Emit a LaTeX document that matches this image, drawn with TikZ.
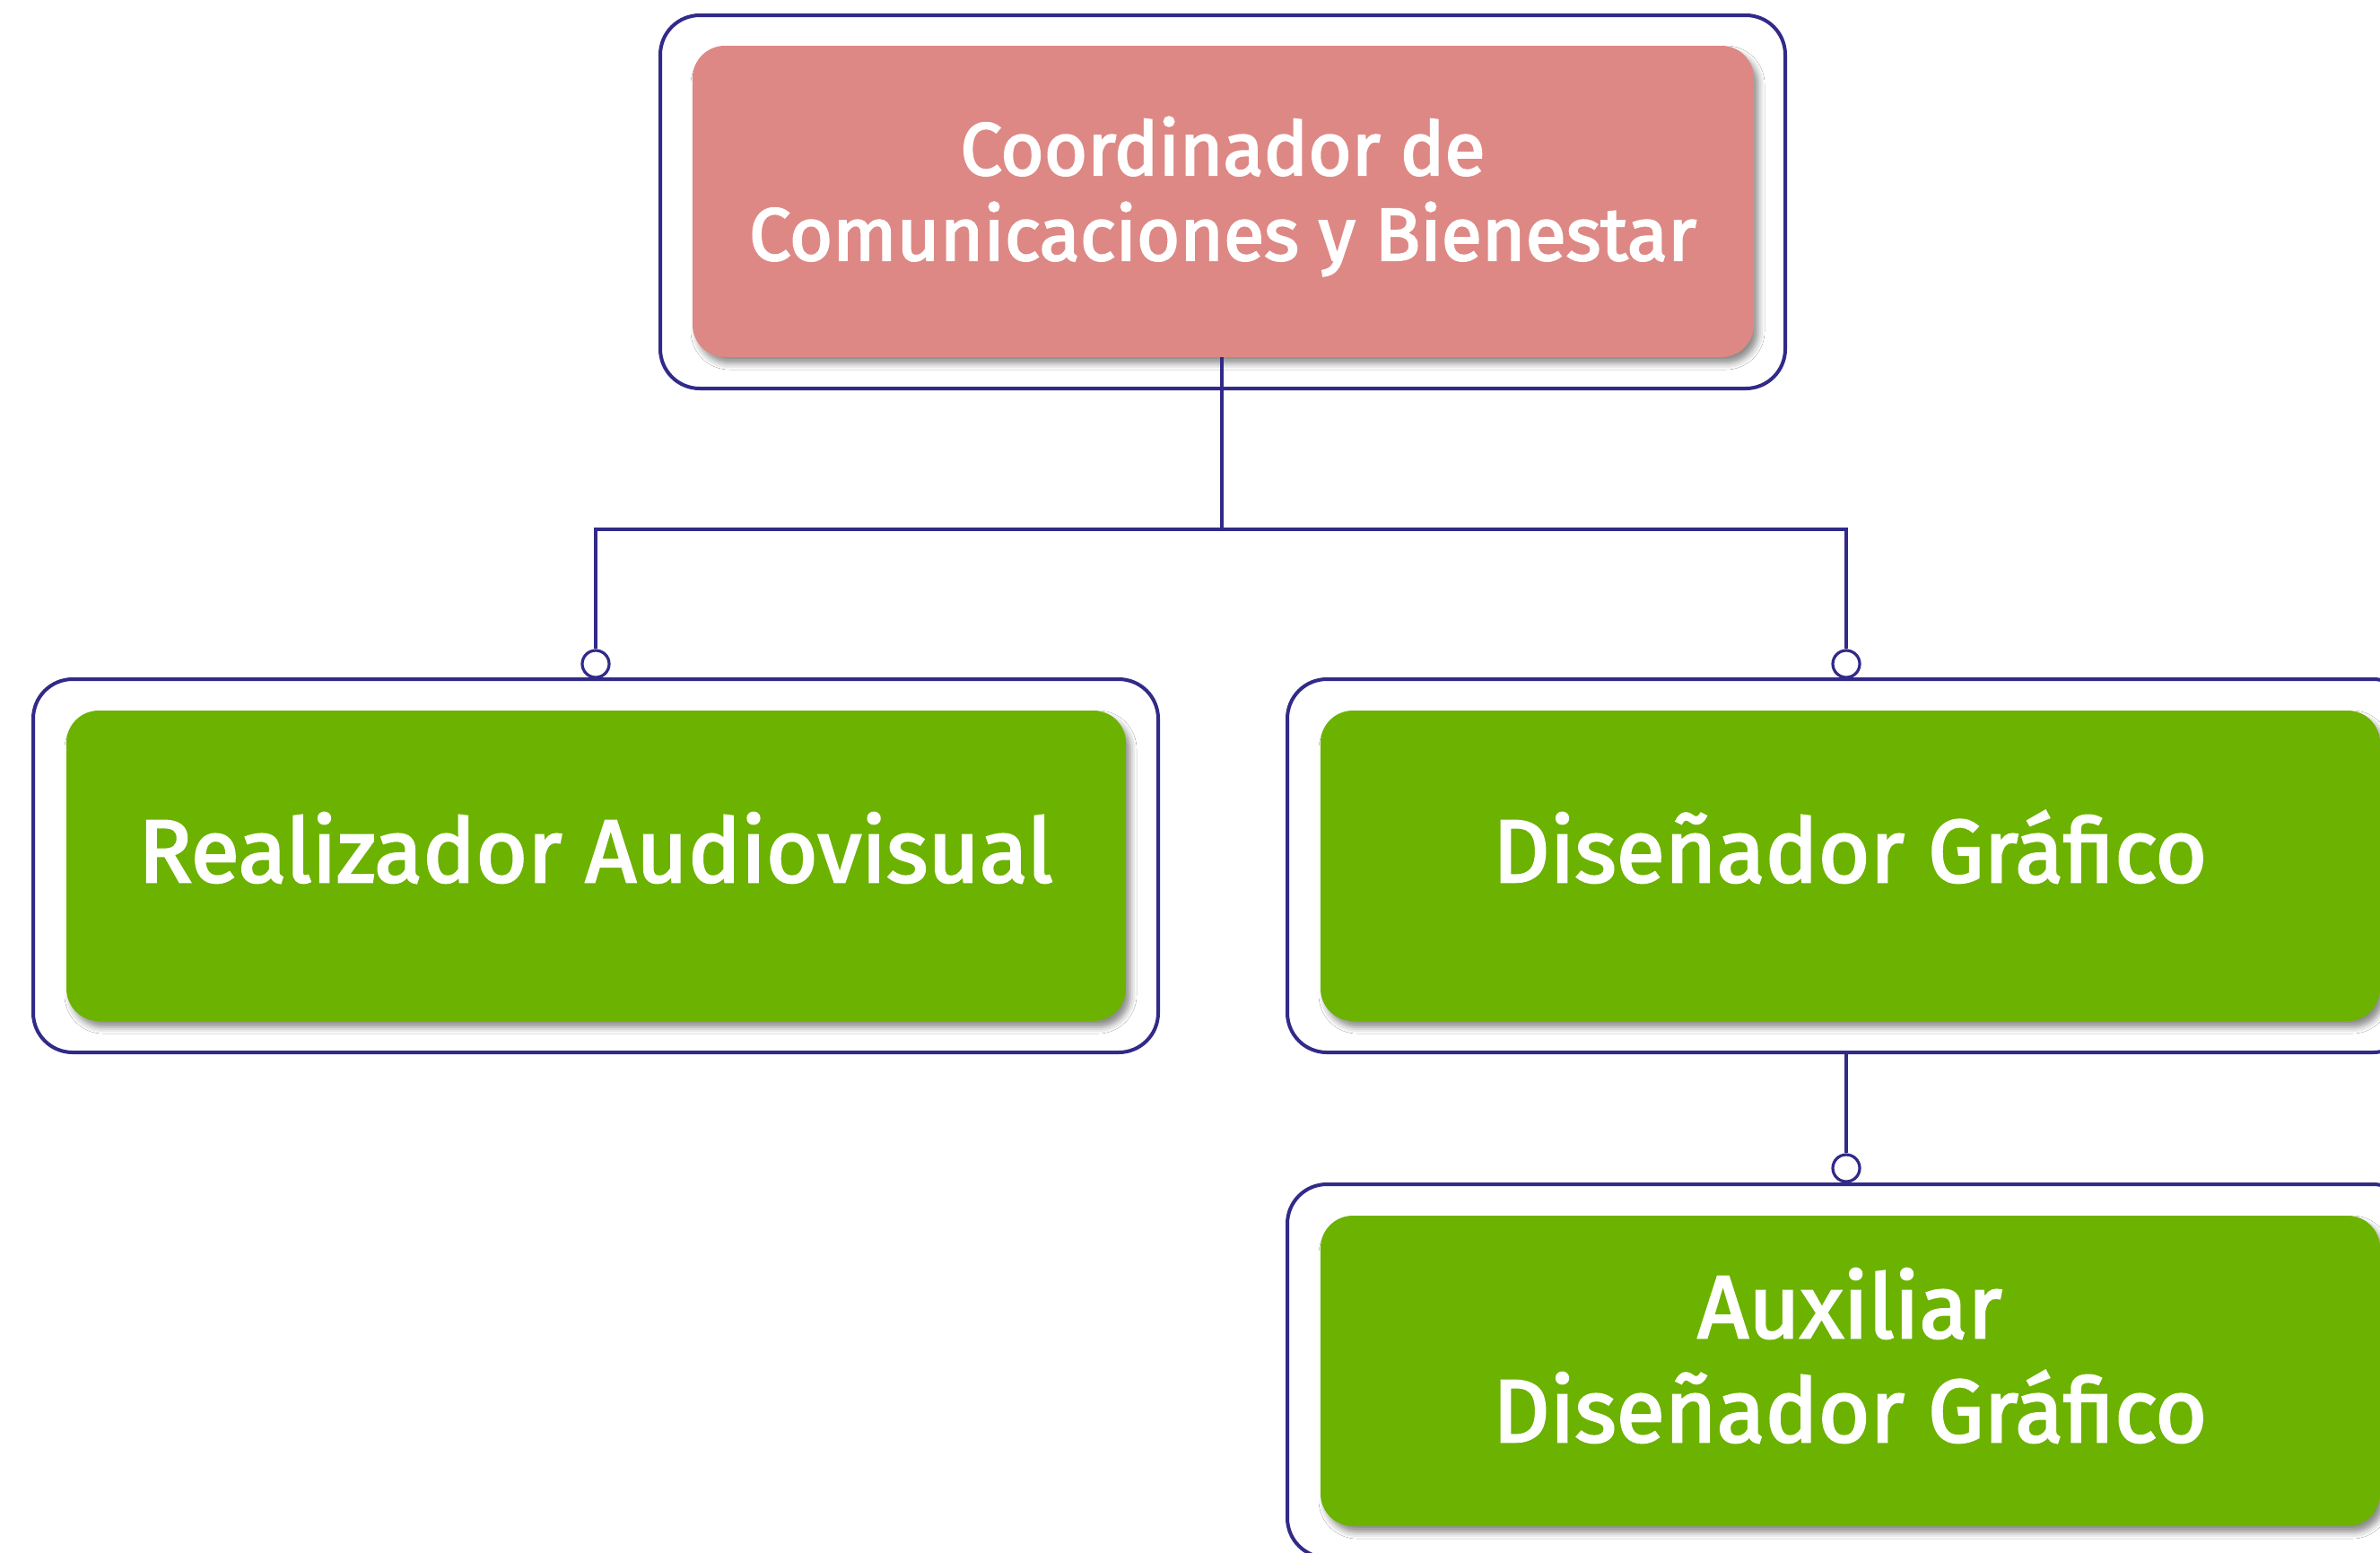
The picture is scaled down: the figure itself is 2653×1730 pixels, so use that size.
\documentclass[tikz,border=0pt]{standalone}
\usepackage{fontspec}
\setmainfont{Fira Sans}
\newfontfamily\heavy{Fira Sans}[FakeBold=2.5]
\usetikzlibrary{shadows.blur}
\definecolor{navy}{HTML}{312A88}
\definecolor{pinkbox}{HTML}{DD8884}
\definecolor{greenbox}{HTML}{6CB200}
\tikzset{
  outerbox/.style={draw=navy, line width=4pt, fill=white, rounded corners=44pt, inner sep=0pt},
  innerbox/.style={rounded corners=36pt, inner sep=0pt, draw=none,
    blur shadow={shadow xshift=5pt, shadow yshift=-7pt, shadow blur radius=7pt, shadow opacity=45}},
  titletext/.style={text=white, align=center, inner sep=0pt, anchor=base},
  conn/.style={draw=navy, line width=3.2pt},
  dot/.style={circle, draw=navy, line width=3.2pt, fill=white, minimum size=30pt, inner sep=0pt}
}
\begin{document}
\begin{tikzpicture}[x=1pt,y=-1pt]
\useasboundingbox (0,0) rectangle (2653,1730);
\clip (0,0) rectangle (2653,1730);
\fill[white] (0,0) rectangle (2653,1730);

% outer frames
\node[outerbox, minimum width=1254pt, minimum height=416pt] (oA) at (1363,225) {};
\node[outerbox, minimum width=1254pt, minimum height=416pt] (oB) at (664,965) {};
\node[outerbox, minimum width=1254pt, minimum height=416pt] (oC) at (2062,965) {};
\node[outerbox, minimum width=1254pt, minimum height=416pt] (oD) at (2062,1528) {};

% inner boxes
\node[innerbox, fill=pinkbox, minimum width=1183pt, minimum height=347pt] (bA) at (1363.5,224.5) {};
\node[innerbox, fill=greenbox, minimum width=1181pt, minimum height=346pt] (bB) at (664.5,965) {};
\node[innerbox, fill=greenbox, minimum width=1181pt, minimum height=346pt] (bC) at (2062.5,965) {};
\node[innerbox, fill=greenbox, minimum width=1181pt, minimum height=346pt] (bD) at (2062.5,1528) {};

% texts
\node[titletext, font=\heavy\fontsize{83}{95}\selectfont] (tA1) at (1363,195) {Coordinador de};
\node[titletext, font=\heavy\fontsize{83}{95}\selectfont] (tA2) at (1363,290) {Comunicaciones y Bienestar};
\node[titletext, font=\heavy\fontsize{99}{116}\selectfont] (tB) at (664,983) {Realizador Audiovisual};
\node[titletext, font=\heavy\fontsize{99}{116}\selectfont] (tC) at (2062,983) {Diseñador Gráfico};
\node[titletext, font=\heavy\fontsize{99}{116}\selectfont] (tD1) at (2062,1491) {Auxiliar};
\node[titletext, font=\heavy\fontsize{99}{116}\selectfont] (tD2) at (2062,1607) {Diseñador Gráfico};

% connector dots
\node[dot] (cB) at (664,740) {};
\node[dot] (cC) at (2058,740) {};
\node[dot] (cD) at (2058,1302) {};

% connectors
\coordinate (bus) at (1362,590);
\draw[conn] (bA.south -| bus) -- (bus);
\draw[conn] (bus) -| (cB.north);
\draw[conn] (bus) -| (cC.north);
\draw[conn] (oC.south -| cD) -- (cD.north);
\end{tikzpicture}
\end{document}
